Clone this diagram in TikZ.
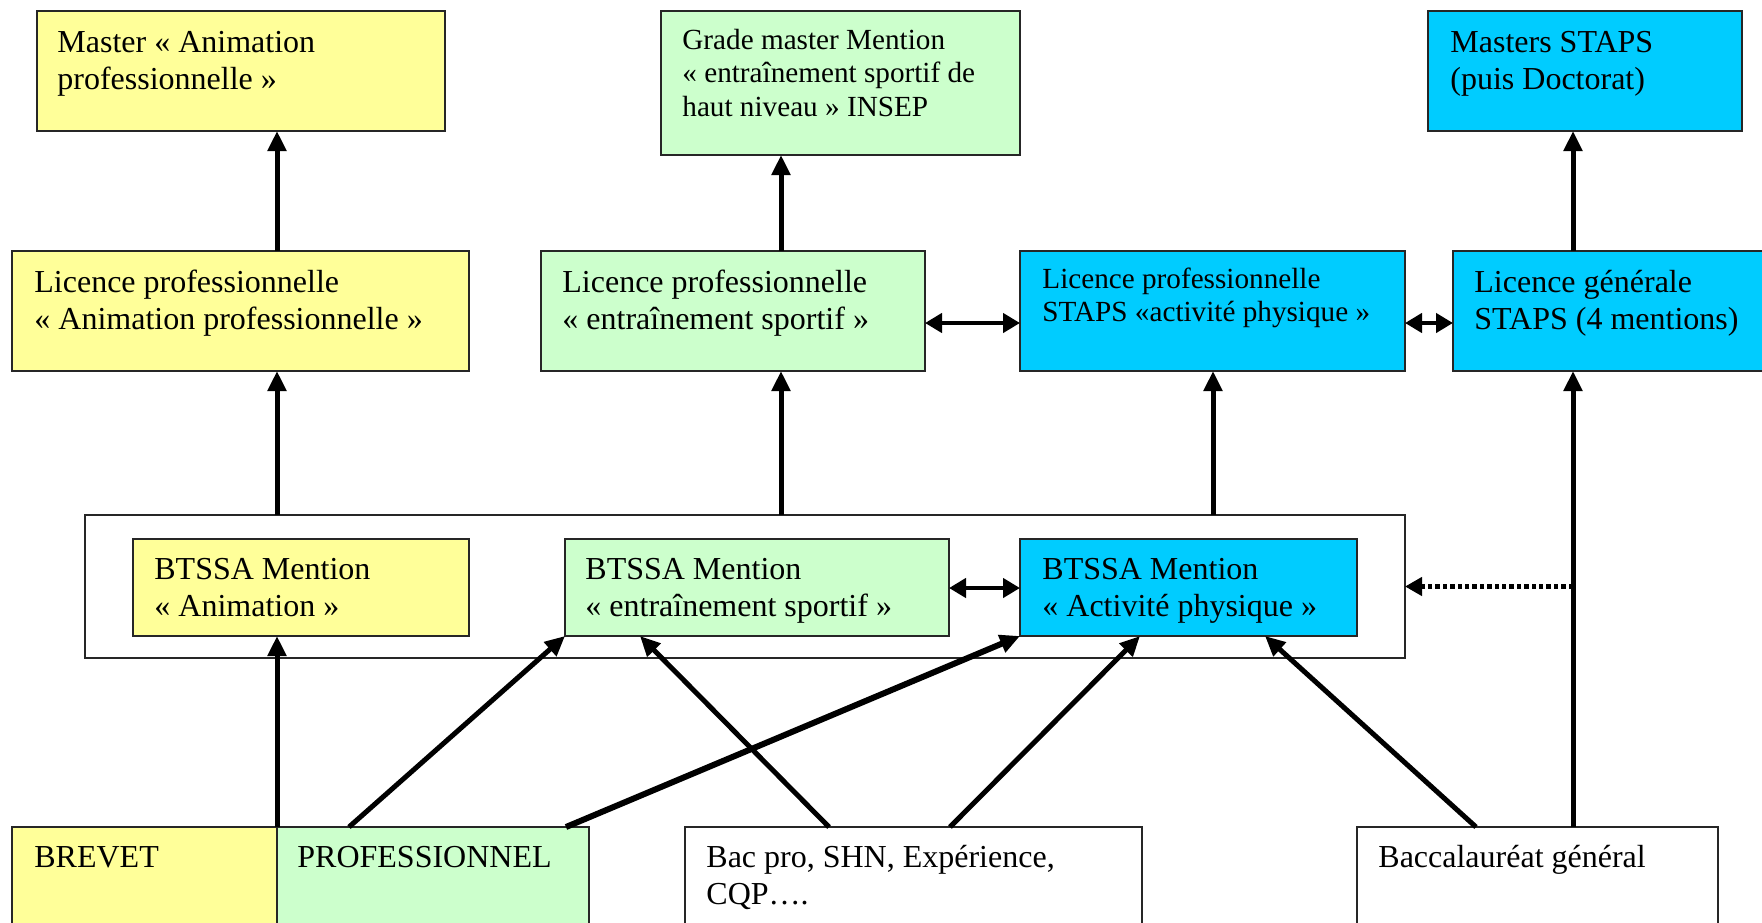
\documentclass[tikz,border=0pt]{standalone}
\usepackage{fontspec}
\setmainfont{Liberation Serif}
\usetikzlibrary{arrows.meta,calc,fit}
\definecolor{cyel}{HTML}{FFFF99}
\definecolor{cgrn}{HTML}{CCFFCC}
\definecolor{cblu}{HTML}{00CCFF}
\newcommand\mlines[1]{\begin{tabular}[t]{@{}l@{}}#1\end{tabular}}
\begin{document}
\begin{tikzpicture}[x=0.5pt,y=-0.5pt,
  box/.style={draw=black!85, line width=1pt, inner sep=0pt, outer sep=0pt},
  txt/.style={anchor=base west, inner sep=0pt, font=\fontsize{16}{18.5}\selectfont},
  stxt/.style={anchor=base west, inner sep=0pt, font=\fontsize{14.6}{16.8}\selectfont},
  arr/.style={line width=2.5pt, -{Triangle[length=10pt,width=9pt]}},
  darr/.style={line width=2.3pt, {Triangle[length=8.5pt,width=9.5pt]}-{Triangle[length=8.5pt,width=9.5pt]}},
  dotarr/.style={line width=2.2pt, dash pattern=on 2.2pt off 1.5pt, -{Triangle[length=8.5pt,width=9pt]}},
]
\useasboundingbox (0,0) rectangle (1762,922);
% column coordinates
\coordinate (c1) at (277,0);
\coordinate (c2) at (781,0);
\coordinate (c3) at (1213,0);
\coordinate (c4) at (1573,0);
% boxes
\node[box, fill=cyel, fit={(37,11)(445,131)}] (ma) {};
\node[box, fill=cgrn, fit={(661,11)(1020,155)}] (gm) {};
\node[box, fill=cblu, fit={(1428,11)(1742,131)}] (ms) {};
\node[box, fill=cyel, fit={(12,251)(469,371)}] (la) {};
\node[box, fill=cgrn, fit={(541,251)(925,371)}] (les) {};
\node[box, fill=cblu, fit={(1020,251)(1405,371)}] (lsa) {};
\node[box, fill=cblu, fit={(1453,251)(1790,371)}] (lg) {};
\node[box, fit={(85,515)(1405,658)}] (ct) {};
\node[box, fill=cyel, fit={(133,539)(469,636)}] (ba) {};
\node[box, fill=cgrn, fit={(565,539)(949,636)}] (bes) {};
\node[box, fill=cblu, fit={(1020,539)(1357,636)}] (bap) {};
\node[box, fill=cyel, fit={(12,827)(277,950)}] (brev) {};
\node[box, fill=cgrn, fit={(277,827)(589,950)}] (pro) {};
\node[box, fit={(685,827)(1142,950)}] (bac) {};
\node[box, fit={(1357,827)(1718,950)}] (bg) {};
% texts
\node[txt] (tma) at ($(ma.north west)+(20,41)$) {\mlines{Master « Animation\\professionnelle »}};
\node[stxt] (tgm) at ($(gm.north west)+(21,38)$) {\mlines{Grade master Mention\\« entraînement sportif de\\haut niveau » INSEP}};
\node[txt] (tms) at ($(ms.north west)+(22,41)$) {\mlines{Masters STAPS\\(puis Doctorat)}};
\node[txt] (tla) at ($(la.north west)+(22,41)$) {\mlines{Licence professionnelle\\« Animation professionnelle »}};
\node[txt] (tles) at ($(les.north west)+(21,41)$) {\mlines{Licence professionnelle\\« entraînement sportif »}};
\node[stxt] (tlsa) at ($(lsa.north west)+(22,37)$) {\mlines{Licence professionnelle\\STAPS «activité physique »}};
\node[txt] (tlg) at ($(lg.north west)+(21,41)$) {\mlines{Licence générale\\STAPS (4 mentions)}};
\node[txt] (tba) at ($(ba.north west)+(21,40)$) {\mlines{BTSSA Mention\\« Animation »}};
\node[txt] (tbes) at ($(bes.north west)+(20,40)$) {\mlines{BTSSA Mention\\« entraînement sportif »}};
\node[txt] (tbap) at ($(bap.north west)+(22,40)$) {\mlines{BTSSA Mention\\« Activité physique »}};
\node[txt] (tbrev) at ($(brev.north west)+(22,40)$) {BREVET};
\node[txt] (tpro) at ($(pro.north west)+(20,40)$) {PROFESSIONNEL};
\node[txt] (tbac) at ($(bac.north west)+(21,40)$) {\mlines{Bac pro, SHN, Expérience,\\CQP….}};
\node[txt] (tbg) at ($(bg.north west)+(21,40)$) {Baccalauréat général};
% vertical arrows
\draw[arr] (la.north -| c1) -- (ma.south -| c1);
\draw[arr] (les.north -| c2) -- (gm.south -| c2);
\draw[arr] (lg.north -| c4) -- (ms.south -| c4);
\draw[arr] (ct.north -| c1) -- (la.south -| c1);
\draw[arr] (ct.north -| c2) -- (les.south -| c2);
\draw[arr] (ct.north -| c3) -- (lsa.south -| c3);
\draw[arr] (bg.north -| c4) -- (lg.south -| c4);
\draw[arr] (brev.north east) -- (ba.south -| brev.north east);
% double arrows
\draw[darr] ($(les.north east)+(0,72)$) -- ($(lsa.north west)+(0,72)$);
\draw[darr] ($(lsa.north east)+(0,72)$) -- ($(lg.north west)+(0,72)$);
\draw[darr] ($(bes.north east)+(0,49)$) -- ($(bap.north west)+(0,49)$);
% dotted
\draw[dotarr] (ct.east -| c4) -- (ct.east);
% diagonal arrows
\draw[arr] ($(pro.north west)+(72,0)$) -- (bes.south west);
\draw[arr] ($(bac.north west)+(144,0)$) -- ($(bes.south west)+(75,0)$);
\draw[arr, line width=3pt] ($(pro.north east)+(-23,0)$) -- (bap.south west);
\draw[arr] ($(bac.north west)+(265,0)$) -- ($(bap.south west)+(120,0)$);
\draw[arr] ($(bg.north west)+(119,0)$) -- ($(bap.south west)+(245,0)$);
\end{tikzpicture}
\end{document}
